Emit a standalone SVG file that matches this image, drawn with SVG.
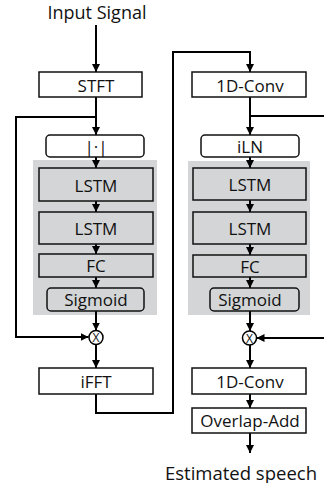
<svg xmlns="http://www.w3.org/2000/svg" width="324" height="483" viewBox="0 0 324 483">
<defs>
<marker id="ah" viewBox="0 0 8 8" refX="8" refY="4" markerWidth="8" markerHeight="8" markerUnits="userSpaceOnUse" orient="auto">
<path d="M0,0 L8,4 L0,8 Z" fill="#000"/>
</marker>
</defs>
<style>
text{font-family:"Open Sans","Noto Sans","DejaVu Sans",sans-serif;font-size:17px;fill:#111;text-anchor:middle;dominant-baseline:central}
.io{font-size:18px}
.out{font-size:18.5px}
.box{fill:#fff;stroke:#111;stroke-width:1.5}
.gbox{fill:#d3d5d7;stroke:#111;stroke-width:1.5}
.bg{fill:#d3d5d7;stroke:none}
.wire{fill:none;stroke:#000;stroke-width:2}
.arr{marker-end:url(#ah)}
.circ{fill:#fff;stroke:#000;stroke-width:1.5}
.x{font-size:12px}
</style>
<rect class="bg" x="33" y="160" width="124" height="155"/>
<rect class="bg" x="188" y="161" width="122" height="154"/>
<g id="connectors">
<path class="wire arr" d="M96,25 V72"/>
<path class="wire arr" d="M96,97 V135"/>
<path class="wire arr" d="M96,117 H16 V337 H88.5"/>
<path class="wire arr" d="M96,157 V168"/>
<path class="wire arr" d="M96,201 V212"/>
<path class="wire arr" d="M96,244 V254"/>
<path class="wire arr" d="M96,277 V288"/>
<path class="wire arr" d="M96,311 V330.5"/>
<path class="wire arr" d="M96,344 V368"/>
<path class="wire arr" d="M96,394 V413 H173 V52 H250 V72"/>
<path class="wire arr" d="M250,97 V135"/>
<path class="wire" d="M250,116 H324"/>
<path class="wire arr" d="M250,157 V168"/>
<path class="wire arr" d="M250,200 V212"/>
<path class="wire arr" d="M250,244 V255"/>
<path class="wire arr" d="M250,277 V288"/>
<path class="wire arr" d="M250,311 V331"/>
<path class="wire arr" d="M324,338 H256.5"/>
<path class="wire arr" d="M250,345 V368"/>
<path class="wire arr" d="M250,394 V408"/>
<path class="wire arr" d="M250,433 V453"/>
</g>
<g id="input"><text class="io" x="97" y="12">Input Signal</text></g>
<g id="stft"><rect class="box" x="39" y="72" width="103" height="25"/><text x="96" y="85">STFT</text></g>
<g id="abs"><rect class="box" x="46" y="135" width="98" height="22" rx="4"/><text x="96" y="146">|·|</text></g>
<g id="lstm1L"><rect class="gbox" x="39" y="168" width="114" height="33"/><text x="96" y="185">LSTM</text></g>
<g id="lstm2L"><rect class="gbox" x="39" y="212" width="114" height="32"/><text x="96" y="228">LSTM</text></g>
<g id="fcL"><rect class="gbox" x="39" y="254" width="114" height="23"/><text x="96" y="265.5">FC</text></g>
<g id="sigL"><rect class="gbox" x="47" y="288" width="97" height="23" rx="4"/><text x="96" y="299.5">Sigmoid</text></g>
<g id="mulL"><circle class="circ" cx="96" cy="337.5" r="7"/><text class="x" x="96" y="337.5">X</text></g>
<g id="ifft"><rect class="box" x="39" y="368" width="114" height="26"/><text x="96" y="381">iFFT</text></g>
<g id="conv1"><rect class="box" x="192" y="72" width="114" height="25"/><text x="250" y="85">1D-Conv</text></g>
<g id="iln"><rect class="box" x="201" y="135" width="98" height="22" rx="4"/><text x="250" y="146">iLN</text></g>
<g id="lstm1R"><rect class="gbox" x="193" y="168" width="113" height="32"/><text x="250" y="184.5">LSTM</text></g>
<g id="lstm2R"><rect class="gbox" x="193" y="212" width="113" height="32"/><text x="250" y="228">LSTM</text></g>
<g id="fcR"><rect class="gbox" x="193" y="255" width="113" height="22"/><text x="250" y="266">FC</text></g>
<g id="sigR"><rect class="gbox" x="210" y="288" width="89" height="23" rx="4"/><text x="250" y="299.5">Sigmoid</text></g>
<g id="mulR"><circle class="circ" cx="249.5" cy="338" r="7"/><text class="x" x="249.5" y="338">X</text></g>
<g id="conv2"><rect class="box" x="192" y="368" width="114" height="26"/><text x="250" y="381">1D-Conv</text></g>
<g id="ola"><rect class="box" x="192" y="408" width="114" height="25"/><text x="250" y="420.5">Overlap-Add</text></g>
<g id="output"><text class="out" x="241" y="472">Estimated speech</text></g>
</svg>
